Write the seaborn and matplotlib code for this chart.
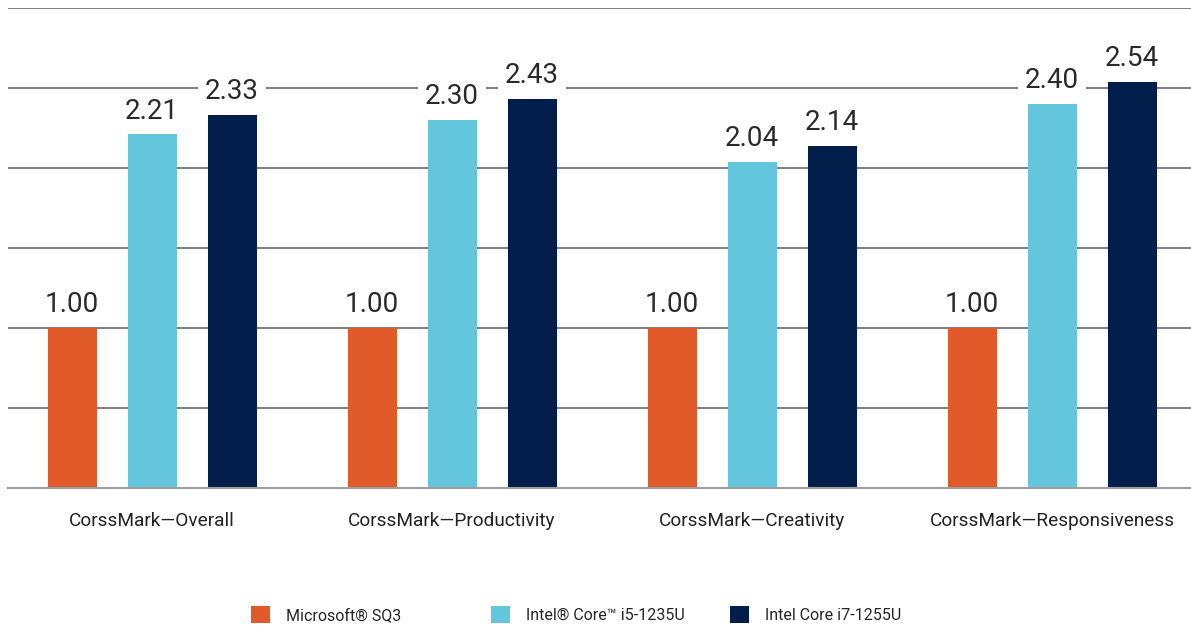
import matplotlib
matplotlib.use("Agg")
import matplotlib.pyplot as plt
import seaborn as sns
import pandas as pd
from matplotlib.patches import Patch

categories = ["CorssMark\u2014Overall", "CorssMark\u2014Productivity",
              "CorssMark\u2014Creativity", "CorssMark\u2014Responsiveness"]
series = ["Microsoft\u00ae SQ3", "Intel\u00ae Core\u2122 i5-1235U", "Intel Core i7-1255U"]
sq3 = [1.00, 1.00, 1.00, 1.00]
i5 = [2.21, 2.30, 2.04, 2.40]
i7 = [2.33, 2.43, 2.14, 2.54]
colors = ["#E05A2A", "#63C6DD", "#011E4B"]

rows = []
for s, vals in zip(series, [sq3, i5, i7]):
    for c, v in zip(categories, vals):
        rows.append({"cat": c, "series": s, "value": v})
df = pd.DataFrame(rows)

sns.set_theme(style="white")
plt.rcParams['font.family'] = ['Roboto', 'DejaVu Sans']

fig = plt.figure(figsize=(11.91, 6.26), dpi=100)
ax = fig.add_axes([8/1191, 138/626, 1183/1191, 480/626])

sns.barplot(data=df, x="cat", y="value", hue="series", palette=colors,
            width=0.8, gap=0.3875, ax=ax, legend=False, saturation=1,
            linewidth=0, edgecolor="none")

ax.set_ylim(0, 3)
ax.set_xlim(-0.48, 3.463)
ax.set_yticks([0.5, 1.0, 1.5, 2.0, 2.5, 3.0])
ax.yaxis.grid(True, color="#5a5a5a", linewidth=1.1)
ax.set_axisbelow(True)
ax.tick_params(axis="y", left=False, labelleft=False)
ax.tick_params(axis="x", bottom=False, labelsize=13.7, colors="#222222", pad=11.5)
for sp in ["top", "left", "right"]:
    ax.spines[sp].set_visible(False)
ax.spines["bottom"].set_color("#9f9f9f")
ax.spines["bottom"].set_linewidth(1.5)
ax.set_xlabel("")
ax.set_ylabel("")

for cont in ax.containers:
    for bar in cont:
        h = bar.get_height()
        ax.annotate(f"{h:.2f}", (bar.get_x() + bar.get_width()/2, h),
                    xytext=(0, 7), textcoords="offset points",
                    ha="center", va="bottom", fontsize=20, color="#2a2a2a",
                    bbox=dict(boxstyle="square,pad=0.25", fc="white", ec="none"))

legend_x = [251/1191, 491/1191, 730/1191]
for c, s, lx in zip(colors, series, legend_x):
    fig.legend([Patch(facecolor=c, edgecolor="none")], [s],
               loc="center left", bbox_to_anchor=(lx, 1 - 614.5/626),
               frameon=False, fontsize=11.5, handlelength=1.2, handleheight=1.2,
               handletextpad=1.0, borderpad=0, borderaxespad=0)

fig.savefig("out.png", dpi=100, facecolor="white")
